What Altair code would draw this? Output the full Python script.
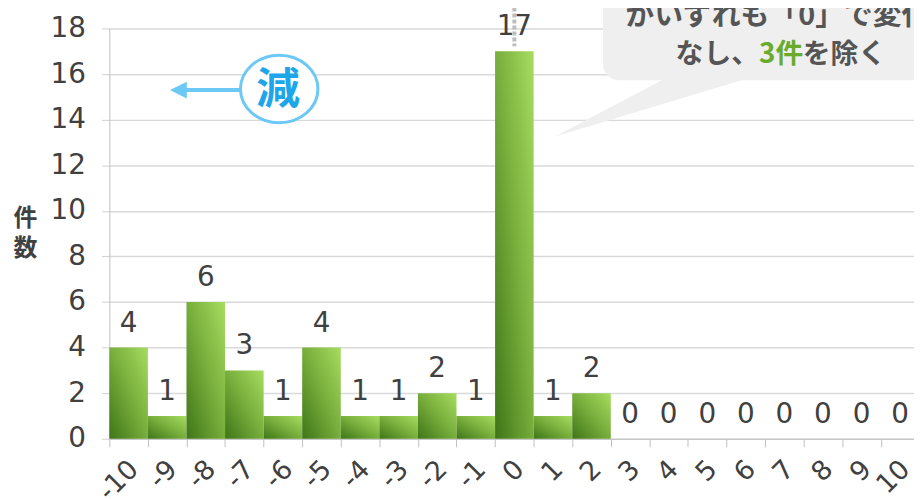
import altair as alt
import pandas as pd

# ---- data ----
bins = list(range(-10, 11))
counts = [4, 1, 6, 3, 1, 4, 1, 1, 2, 1, 17, 1, 2, 0, 0, 0, 0, 0, 0, 0, 0]
x_ticks = list(range(-10, 11))
y_ticks = list(range(0, 20, 2))
axis_title = ["件", "数"]
note_line1 = "がいずれも「0」で変化"
note_line2 = ["なし、", "3件", "を除く"]
decrease_label = "減"

df = pd.DataFrame({"bin": bins, "count": counts})
df["bin_end"] = df["bin"] + 1
df["center"] = df["bin"] + 0.5

W, H = 810, 413
X_MAX = 10.86
BAND = W / (X_MAX + 10)

NUM_FONT = "DejaVu Sans"
JP_FONT = "Noto Sans CJK JP"
TXT = "#404040"

xscale = alt.Scale(domain=[-10, X_MAX], nice=False, zero=False, padding=0)
yscale = alt.Scale(domain=[0, 18], nice=False, padding=0)

grad = alt.LinearGradient(
    gradient="linear",
    stops=[
        alt.GradientStop(color="#3f7517", offset=0),
        alt.GradientStop(color="#77ad3b", offset=0.5),
        alt.GradientStop(color="#a6dd60", offset=1),
    ],
    x1=0, y1=1, x2=1, y2=0,
)

base = alt.Chart(df)

bars = base.mark_bar(color=grad).encode(
    x=alt.X("bin:Q", scale=xscale,
            axis=alt.Axis(values=x_ticks, labelAngle=-45, labelOffset=BAND / 2 - 4,
                          labelExpr="'' + datum.value",
                          labelFont=NUM_FONT, labelFontSize=27, labelColor=TXT,
                          tickColor="#bfbfbf", tickSize=8, domainColor="#bfbfbf",
                          grid=False, title=None, labelPadding=9,
                          labelFlush=False, labelOverlap=False)),
    x2="bin_end:Q",
    y=alt.Y("count:Q", scale=yscale,
            axis=alt.Axis(values=y_ticks, grid=True, gridColor="#d9d9d9", gridWidth=1.5,
                          domainColor="#bfbfbf", tickColor="#d0d0d0", tickSize=8,
                          labelFont=NUM_FONT, labelFontSize=28, labelColor=TXT,
                          labelPadding=16, labelFlush=False,
                          title=axis_title, titleAngle=0, titleX=-85, titleY=179,
                          titleFont=JP_FONT, titleFontSize=24, titleFontWeight="bold",
                          titleColor=TXT, titleLineHeight=31, titleAlign="center",
                          titleBaseline="top")),
    y2=alt.datum(0),
)

values = base.mark_text(font=NUM_FONT, fontSize=28, color=TXT, baseline="alphabetic",
                        dy=-16).encode(
    x=alt.X("center:Q", scale=xscale),
    y=alt.Y("count:Q", scale=yscale),
    text="count:Q",
)

one = pd.DataFrame({"x": [0.5]})

divider = alt.Chart(one).mark_rule(color="#bdbdbd", strokeWidth=4, strokeDash=[4, 2]).encode(
    x=alt.X("x:Q", scale=xscale), y=alt.value(-27), y2=alt.value(18)
)

bubble = alt.Chart(one).mark_rect(fill="#efefef", cornerRadius=16).encode(
    x=alt.value(497), x2=alt.value(950), y=alt.value(-60), y2=alt.value(52)
)
tail = alt.Chart(one).mark_point(shape="M0,-2 L83,-2 L-112,57 Z", size=4, filled=True,
                                 fill="#efefef", opacity=1, strokeWidth=0).encode(
    x=alt.value(560), y=alt.value(52)
)

NOTE_W = 600
t1 = alt.Chart(one).mark_text(text=note_line1, font=JP_FONT, fontSize=29, fontWeight=NOTE_W,
                              color="#555555", align="center", baseline="middle", dy=2).encode(
    x=alt.value(673), y=alt.value(-14.5)
)
t2a = alt.Chart(one).mark_text(text=note_line2[0], font=JP_FONT, fontSize=28, fontWeight=NOTE_W,
                               color="#555555", align="right", baseline="middle", dy=2).encode(
    x=alt.value(654), y=alt.value(24.5)
)
t2b = alt.Chart(one).mark_text(text=note_line2[1], font=JP_FONT, fontSize=28, fontWeight=NOTE_W,
                               color="#6aab2c", align="left", baseline="middle", dy=2).encode(
    x=alt.value(654), y=alt.value(24.5)
)
t2c = alt.Chart(one).mark_text(text=note_line2[2], font=JP_FONT, fontSize=28, fontWeight=NOTE_W,
                               color="#555555", align="left", baseline="middle", dy=2).encode(
    x=alt.value(698), y=alt.value(24.5)
)

arrow_line = alt.Chart(one).mark_rule(color="#6cc8f4", strokeWidth=4).encode(
    x=alt.value(76), x2=alt.value(132), y=alt.value(62)
)
arrow_head = alt.Chart(one).mark_point(shape="M-9,0 L8,-8.5 L8,8.5 Z", size=4, filled=True,
                                       fill="#6cc8f4", opacity=1, strokeWidth=0).encode(
    x=alt.value(70), y=alt.value(62)
)
ellipse = alt.Chart(one).mark_point(shape="M-39,0 A39,34 0 1 1 39,0 A39,34 0 1 1 -39,0 Z",
                                    size=4, filled=True, fill="white", stroke="#6cc8f4",
                                    strokeWidth=3, opacity=1).encode(
    x=alt.value(171), y=alt.value(61)
)
gen = alt.Chart(one).mark_text(text=decrease_label, font=JP_FONT, fontSize=44, fontWeight="bold",
                               color="#1ea5ea", align="center", baseline="middle", dy=3).encode(
    x=alt.value(170), y=alt.value(60)
)

chart = alt.layer(
    bars, values, divider, bubble, tail, t1, t2a, t2b, t2c,
    arrow_line, arrow_head, ellipse, gen
).properties(
    width=W, height=H,
    autosize=alt.AutoSizeParams(type="none"),
    padding={"left": 102, "top": 19, "right": 0, "bottom": 57},
    background="white",
).configure_view(stroke=None)

chart.save("out.html", embed_options={"renderer": "svg", "actions": False})
